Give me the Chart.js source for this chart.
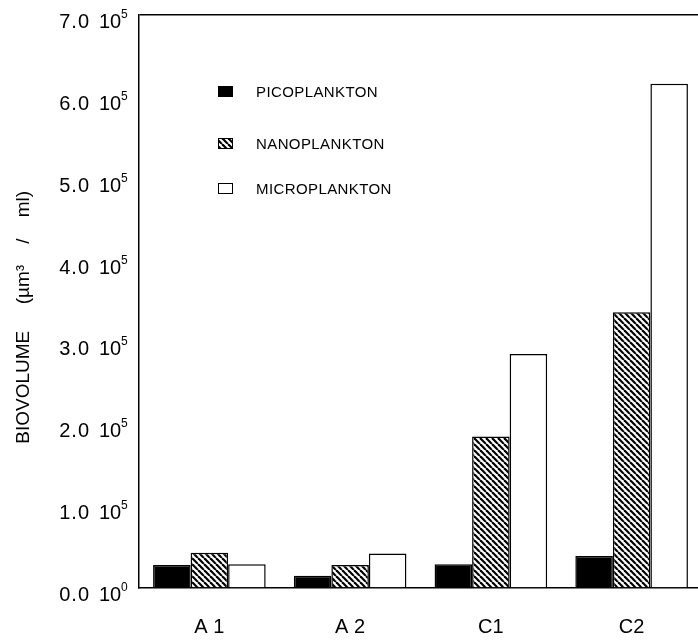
<!DOCTYPE html>
<html>
<head>
<meta charset="utf-8">
<script src="https://cdn.jsdelivr.net/npm/chart.js@4.4.0/dist/chart.umd.min.js"></script>
<style>
  html, body { margin: 0; padding: 0; background: #fff; overflow: hidden; }
  #wrap { width: 703px; height: 642px; }
</style>
</head>
<body>
<div id="wrap"><canvas id="myChart"></canvas></div>
<script>
// datos (um3 / ml)
const estaciones = ["A 1", "A 2", "C1", "C2"];
const pico = [28000, 15000, 29000, 39000];
const nano = [43000, 28000, 185000, 337000];
const micro = [29000, 42000, 286000, 616000];
const yTicks = ["0.0", "1.0", "2.0", "3.0", "4.0", "5.0", "6.0", "7.0"];
const yExp = ["0", "5", "5", "5", "5", "5", "5", "5"];

const fuente = "'Liberation Sans', Arial, sans-serif";

var ctx = document.getElementById("myChart").getContext("2d");

// patron rayado para nanoplancton
const rayado = () => {
  const c = document.createElement("canvas");
  c.width = 6;
  c.height = 6;
  const x = c.getContext("2d");
  x.fillStyle = "#fff";
  x.fillRect(0, 0, 6, 6);
  x.strokeStyle = "#000";
  x.lineWidth = 2.2;
  for (let k = -6; k <= 6; k += 6) {
    x.beginPath();
    x.moveTo(k, 0);
    x.lineTo(k + 6, 6);
    x.stroke();
  }
  return ctx.createPattern(c, "repeat");
};

// etiquetas del eje y con exponente
const etiquetasY = {
  id: "etiquetasY",
  afterDraw(chart) {
    const c = chart.ctx;
    const y = chart.scales.y;
    c.save();
    c.fillStyle = "#000";
    c.textBaseline = "alphabetic";
    y.ticks.forEach((t, i) => {
      const py = y.getPixelForValue(t.value);
      c.font = "20px " + fuente;
      c.letterSpacing = "1px";
      c.textAlign = "right";
      c.fillText(yTicks[i], 90, py + 13);
      c.letterSpacing = "0px";
      c.textAlign = "left";
      c.fillText("10", 99, py + 13);
      c.font = "12px " + fuente;
      c.fillText(yExp[i], 121, py + 3);
    });
    c.restore();
  },
};

// leyenda dentro del area del grafico
const leyenda = {
  id: "leyenda",
  afterDraw(chart) {
    const c = chart.ctx;
    const filas = [86, 138, 183];
    c.save();
    chart.data.datasets.forEach((ds, i) => {
      const yy = filas[i];
      c.fillStyle = ds.backgroundColor;
      c.fillRect(218, yy, 15, 11);
      c.strokeStyle = "#000";
      c.lineWidth = 1;
      c.strokeRect(218.5, yy + 0.5, 14, 10);
      c.fillStyle = "#000";
      c.font = "15px " + fuente;
      c.letterSpacing = "0.4px";
      c.textAlign = "left";
      c.textBaseline = "alphabetic";
      c.fillText(ds.label, 256, yy + 11);
    });
    c.restore();
  },
};

var myChart = new Chart(ctx, {
  type: "bar",
  data: {
    labels: estaciones,
    datasets: [
      {
        label: "PICOPLANKTON",
        data: pico,
        backgroundColor: "#000",
        borderColor: "#000",
        borderWidth: 1.5,
      },
      {
        label: "NANOPLANKTON",
        data: nano,
        backgroundColor: rayado(),
        borderColor: "#000",
        borderWidth: 1.5,
      },
      {
        label: "MICROPLANKTON",
        data: micro,
        backgroundColor: "#fff",
        borderColor: "#000",
        borderWidth: 1.5,
      },
    ],
  },
  options: {
    responsive: true,
    maintainAspectRatio: false,
    animation: false,
    layout: { padding: { top: 15, right: 1, bottom: 0, left: 0 } },
    datasets: { bar: { categoryPercentage: 0.8, barPercentage: 1.0 } },
    plugins: {
      legend: { display: false },
      tooltip: { enabled: false },
    },
    scales: {
      x: {
        grid: { display: false },
        border: { color: "#000", width: 1.5 },
        ticks: {
          color: "#000",
          font: { family: fuente, size: 20 },
          padding: 19,
          maxRotation: 0,
        },
        afterFit: (s) => {
          s.height = 54;
        },
      },
      y: {
        min: 0,
        max: 700000,
        ticks: { display: false, stepSize: 100000 },
        grid: {
          drawTicks: false,
          lineWidth: 1.5,
          color: (c) => (c.tick && c.tick.value === 700000 ? "#000" : "rgba(0,0,0,0)"),
        },
        border: { color: "#000", width: 1.5 },
        title: {
          display: true,
          text: "BIOVOLUME     (µm³    /    ml)      ",
          color: "#000",
          font: { family: fuente, size: 19 },
          padding: { top: 12, bottom: 0 },
        },
        afterFit: (s) => {
          s.width = 139;
        },
      },
    },
  },
  plugins: [etiquetasY, leyenda],
});
</script>
</body>
</html>
